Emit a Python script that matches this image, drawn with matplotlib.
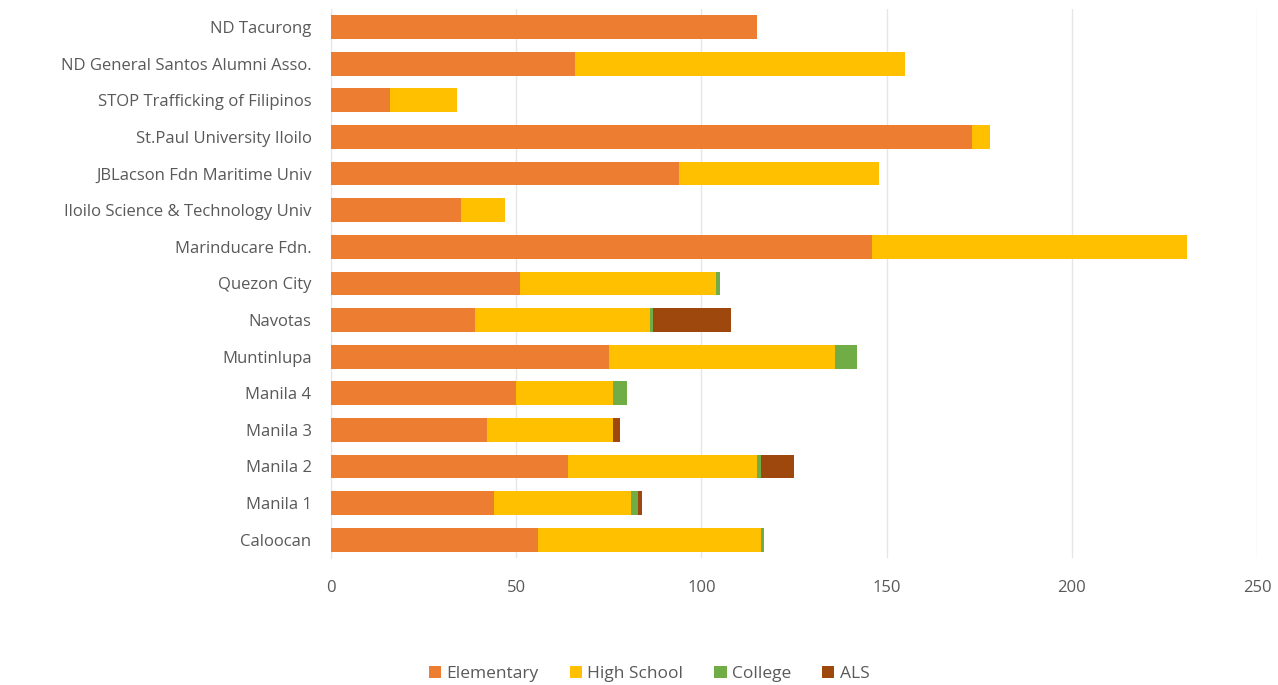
import matplotlib.pyplot as plt
import numpy as np

# categories bottom to top
schools = ["Caloocan", "Manila 1", "Manila 2", "Manila 3", "Manila 4", "Muntinlupa",
           "Navotas", "Quezon City", "Marinducare Fdn.", "Iloilo Science & Technology Univ",
           "JBLacson Fdn Maritime Univ", "St.Paul University Iloilo",
           "STOP Trafficking of Filipinos", "ND General Santos Alumni Asso.", "ND Tacurong"]
elementary = [56, 44, 64, 42, 50, 75, 39, 51, 146, 35, 94, 173, 16, 66, 115]
high_school = [60, 37, 51, 34, 26, 61, 47, 53, 85, 12, 54, 5, 18, 89, 0]
college = [1, 2, 1, 0, 4, 6, 1, 1, 0, 0, 0, 0, 0, 0, 0]
als = [0, 1, 9, 2, 0, 0, 21, 0, 0, 0, 0, 0, 0, 0, 0]

series = [("Elementary", elementary, "#ED7D31"),
          ("High School", high_school, "#FFC000"),
          ("College", college, "#70AD47"),
          ("ALS", als, "#9E480E")]

plt.rcParams['font.family'] = ['Open Sans', 'DejaVu Sans']

fig = plt.figure(figsize=(12.78, 6.85), dpi=100)
ax = fig.add_axes([0.259, 0.1854, 0.7246, 0.8017])

y = np.arange(len(schools))
left = np.zeros(len(schools))
for name, vals, color in series:
    vals = np.array(vals, dtype=float)
    ax.barh(y, vals, left=left, height=0.65, color=color, label=name, zorder=3)
    left += vals

ax.set_xlim(0, 250)
ax.set_ylim(-0.5, len(schools) - 0.5)
ax.set_xticks([0, 50, 100, 150, 200, 250])
ax.set_yticks(y)
ax.set_yticklabels(schools)
ax.grid(axis='x', color='#E6E6E6', linewidth=1, zorder=0)
for s in ['top', 'right', 'bottom']:
    ax.spines[s].set_visible(False)
ax.spines['left'].set_color('#E6E6E6')
ax.tick_params(axis='both', length=0, colors='#595959', labelsize=12)
ax.tick_params(axis='x', pad=16)
ax.tick_params(axis='y', pad=14)

fig.legend(loc='lower center', bbox_to_anchor=(0.508, -0.018), ncol=4, frameon=False,
           handlelength=0.7, handleheight=0.7, handletextpad=0.3, columnspacing=1.8,
           fontsize=12.5, labelcolor='#595959')

fig.savefig("out.png", dpi=100)
